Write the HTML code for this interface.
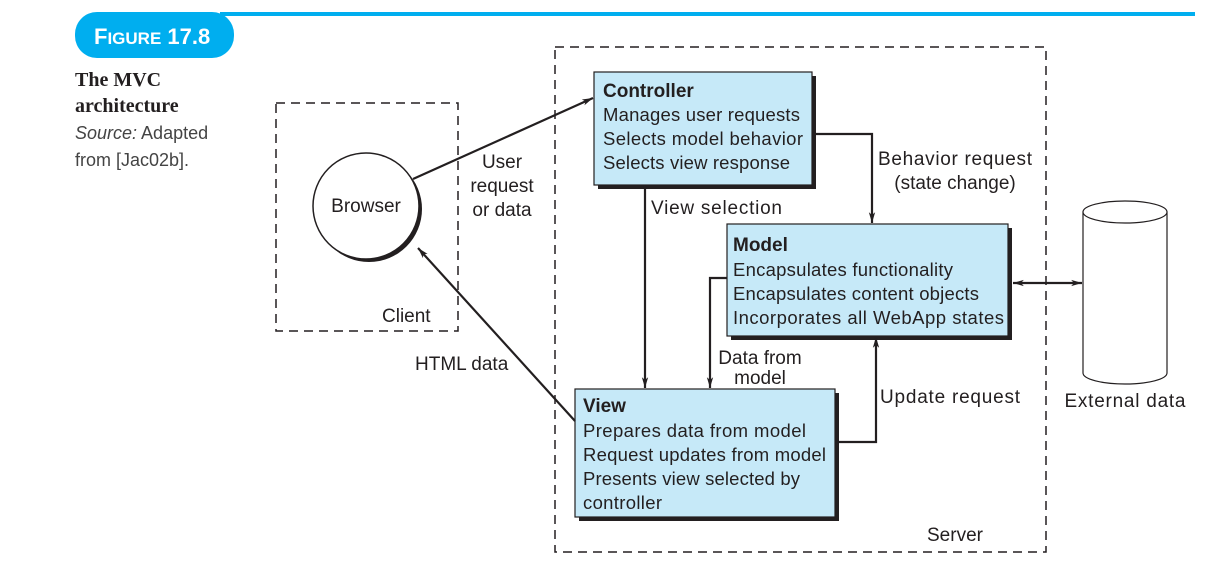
<!DOCTYPE html>
<html><head><style>
body{margin:0;width:1225px;height:574px;background:#fff;overflow:hidden}
svg text{font-family:"Liberation Sans",sans-serif;fill:#231f20}
svg text.serif{font-family:"Liberation Serif",serif}
</style></head><body>
<svg width="1225" height="574" viewBox="0 0 1225 574" xmlns="http://www.w3.org/2000/svg">
<defs>
<marker id="a" viewBox="0 0 12 10" refX="12" refY="5" markerWidth="12" markerHeight="9" orient="auto-start-reverse" markerUnits="userSpaceOnUse"><path d="M0,1.5 L12,5 L0,8.5 L3,5 z" fill="#231f20"/></marker>
</defs>
<!-- header -->
<line x1="220" y1="14" x2="1195" y2="14" stroke="#00aeef" stroke-width="4"/>
<rect x="75" y="12" width="159" height="46" rx="22" fill="#00aeef"/>
<text x="94" y="44" font-size="22" font-weight="bold" style="fill:#fff">F<tspan font-size="17">IGURE</tspan> 17.8</text>
<text class="serif" x="75" y="86" font-size="20" font-weight="bold">The MVC</text>
<text class="serif" x="75" y="112" font-size="20" font-weight="bold">architecture</text>
<text x="75" y="139" font-size="18" style="fill:#444"><tspan font-style="italic">Source:</tspan> Adapted</text>
<text x="75" y="166" font-size="18" style="fill:#444">from [Jac02b].</text>
<!-- dashed boxes -->
<g fill="none" stroke="#231f20" stroke-width="1.5" stroke-dasharray="9,6">
<rect x="276" y="103" width="182" height="228"/>
<rect x="555" y="47" width="491" height="505"/>
</g>
<text x="382" y="322" font-size="19">Client</text>
<text x="927" y="541" font-size="19">Server</text>
<!-- browser -->
<circle cx="369" cy="209" r="53" fill="#231f20"/>
<circle cx="366" cy="206" r="53" fill="#fff" stroke="#231f20" stroke-width="1.5"/>
<text x="366" y="212" font-size="19" text-anchor="middle">Browser</text>
<!-- boxes -->
<rect x="598" y="76" width="218" height="113" fill="#231f20"/>
<rect x="594" y="72" width="218" height="113" fill="#c6e9f8" stroke="#231f20" stroke-width="1.2"/>
<text x="603" y="97" font-size="19" font-weight="bold">Controller</text>
<text x="603" y="121" font-size="18.5" textLength="197">Manages user requests</text>
<text x="603" y="145" font-size="18.5" textLength="200">Selects model behavior</text>
<text x="603" y="169" font-size="18.5" textLength="187">Selects view response</text>

<rect x="731" y="228" width="281" height="112" fill="#231f20"/>
<rect x="727" y="224" width="281" height="112" fill="#c6e9f8" stroke="#231f20" stroke-width="1.2"/>
<text x="733" y="251" font-size="19" font-weight="bold">Model</text>
<text x="733" y="276" font-size="18.5" textLength="220">Encapsulates functionality</text>
<text x="733" y="300" font-size="18.5" textLength="246">Encapsulates content objects</text>
<text x="733" y="324" font-size="18.5" textLength="271">Incorporates all WebApp states</text>

<rect x="579" y="393" width="260" height="128" fill="#231f20"/>
<rect x="575" y="389" width="260" height="128" fill="#c6e9f8" stroke="#231f20" stroke-width="1.2"/>
<text x="583" y="412" font-size="19" font-weight="bold">View</text>
<text x="583" y="437" font-size="18.5" textLength="223">Prepares data from model</text>
<text x="583" y="461" font-size="18.5" textLength="243">Request updates from model</text>
<text x="583" y="485" font-size="18.5" textLength="217">Presents view selected by</text>
<text x="583" y="509" font-size="18.5" textLength="79">controller</text>
<!-- cylinder -->
<path d="M1083,212 L1083,373 A42,11 0 0 0 1167,373 L1167,212" fill="#fff" stroke="#231f20" stroke-width="1.2"/>
<ellipse cx="1125" cy="212" rx="42" ry="11" fill="#fff" stroke="#231f20" stroke-width="1.2"/>
<text x="1125" y="407" font-size="19" text-anchor="middle" textLength="121">External data</text>
<!-- connectors -->
<g fill="none" stroke="#231f20" stroke-width="2.2">
<line x1="413" y1="179" x2="593" y2="98" marker-end="url(#a)"/>
<line x1="575" y1="421" x2="418" y2="248" marker-end="url(#a)"/>
<line x1="645" y1="186" x2="645" y2="388" marker-end="url(#a)"/>
<polyline points="727,278 710,278 710,388" marker-end="url(#a)"/>
<polyline points="835,442 876,442 876,337" marker-end="url(#a)"/>
<polyline points="812,134 872,134 872,223" marker-end="url(#a)"/>
<line x1="1013" y1="283" x2="1082" y2="283" marker-start="url(#a)" marker-end="url(#a)"/>
</g>
<text x="502" y="168" font-size="19" text-anchor="middle">User</text>
<text x="502" y="192" font-size="19" text-anchor="middle">request</text>
<text x="502" y="216" font-size="19" text-anchor="middle">or data</text>
<text x="415" y="370" font-size="19">HTML data</text>
<text x="651" y="214" font-size="19" textLength="131">View selection</text>
<text x="955" y="165" font-size="19" text-anchor="middle" textLength="154">Behavior request</text>
<text x="955" y="189" font-size="19" text-anchor="middle">(state change)</text>
<text x="760" y="364" font-size="19" text-anchor="middle">Data from</text>
<text x="760" y="384" font-size="19" text-anchor="middle">model</text>
<text x="880" y="403" font-size="19" textLength="140">Update request</text>
</svg>
</body></html>
